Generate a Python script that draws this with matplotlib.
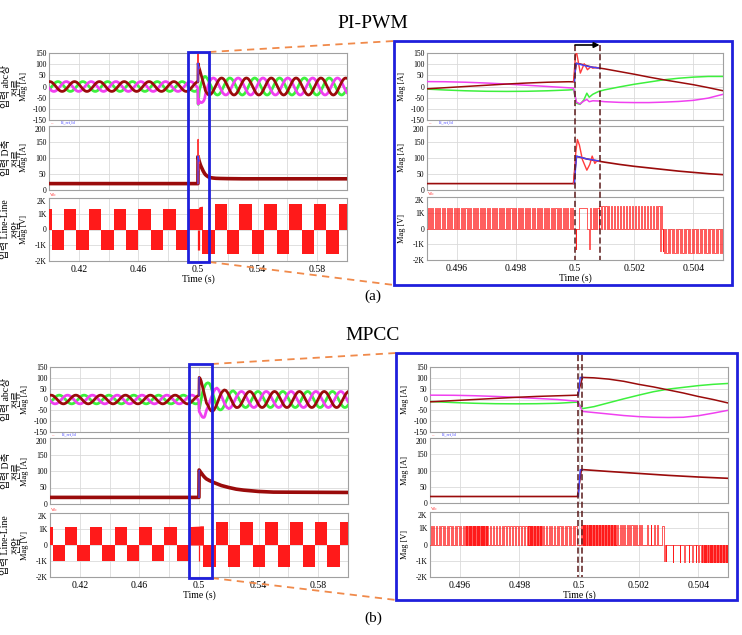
import numpy as np
import matplotlib
matplotlib.use("Agg")
import matplotlib.pyplot as plt
from matplotlib.patches import Rectangle, FancyArrowPatch
from matplotlib.lines import Line2D

# ======================= DATA =======================
# one 60 Hz cycle of a phase current, sampled every 15 deg, per unit of its peak
half_cycle_pu = [0.0, 0.26, 0.50, 0.71, 0.87, 0.97, 1.0, 0.97, 0.87, 0.71, 0.50, 0.26]
cycle_pu = half_cycle_pu + [-v for v in half_cycle_pu]
cycle_step = 1.0 / 1440.0          # 15 deg at 60 Hz

# ---------- (a) PI-PWM ----------
a_pre_t0, a_pre_t1, a_pre_amp = 0.39977, 0.49980, 22
a_pre_idx = {"a": 5, "b": 13, "c": 21}        # start sample of dark-red / magenta / green
a_post_t0, a_post_t1, a_post_amp = 0.5075, 0.6005, 38
a_post_idx = {"a": 18, "b": 2, "c": 10}

a_tr_t = [0.49995, 0.50005, 0.50017, 0.5003, 0.5004, 0.50048, 0.5006, 0.5008, 0.5010, 0.5015,
          0.5020, 0.5025, 0.5030, 0.5035, 0.5040, 0.5045, 0.5050, 0.5060, 0.5070]
a_tr_ia = [21, 104, 101, 97, 93, 90, 86, 83, 79, 67, 55, 42, 30, 19, 8, -5, -19, -30, -37]
a_tr_ib = [-7, -70, -78, -65, -58, -68, -64, -65, -68, -71, -72, -72, -70, -67, -62, -52, -35, -12, 8]
a_tr_ic = [-14, -75, -80, -60, -30, -48, -35, -22, -15, -2, 10, 20, 30, 37, 42, 45, 45, 38, 27]

a_ia_over_t = [0.49995, 0.50002, 0.50006, 0.50018, 0.50031, 0.50042, 0.50053, 0.50060, 0.50070, 0.50080]
a_ia_over_v = [21, 145, 148, 60, 102, 75, 88, 82, 86, 83]
a_ia_ref_t = [0.49998, 0.50003, 0.5002, 0.5004, 0.5006, 0.5008]
a_ia_ref_v = [21, 104, 98, 91, 86, 83]

a_id_t = [0.4000, 0.49995, 0.50005, 0.5004, 0.5008, 0.5010, 0.5015, 0.5020, 0.5025, 0.5030, 0.5035,
          0.5040, 0.5045, 0.5050, 0.5060, 0.5070, 0.5080, 0.5100, 0.5120, 0.5150, 0.5200, 0.5300, 0.6000]
a_id_v = [20, 20, 105, 97, 90, 87, 80, 74, 69, 64, 59, 55, 51, 48, 44, 41, 39, 37.5, 36.5, 36, 35.5, 35, 35]
a_id_over_t = [0.49995, 0.50003, 0.50008, 0.50015, 0.50025, 0.5004, 0.5005, 0.50058, 0.50067, 0.50075, 0.5008]
a_id_over_v = [20, 120, 158, 140, 95, 62, 80, 106, 83, 92, 90]
a_id_ref_t = [0.49998, 0.50005, 0.5002, 0.5004, 0.5006, 0.5008]
a_id_ref_v = [20, 106, 102, 97, 94, 91]

# line-line voltage envelope blocks (left view)
vll_edges = [0.4000, 0.4017, 0.4100, 0.4183, 0.4267, 0.4350, 0.4433, 0.4517, 0.4600, 0.4683, 0.4767,
             0.4850, 0.4933, 0.5030, 0.5112, 0.5195, 0.5278, 0.5362, 0.5445, 0.5528, 0.5612, 0.5695,
             0.5778, 0.5862, 0.5945, 0.6000]
a_vll_levels = [1300, -1280, 1300, -1280, 1300, -1280, 1300, -1280, 1300, -1280, 1300, -1280, 1300,
                -1580, 1650, -1580, 1650, -1580, 1650, -1580, 1650, -1580, 1650, -1580, 1650]
a_vll_rise_t = [0.4933, 0.49995, 0.5008, 0.5030]
a_vll_rise_v = [1300, 1300, 1450, 1480]
a_vll_spikes_t = [0.50003, 0.50048]
a_vll_spikes_v = [-1300, -1300]

# switching pulses (zoomed view): (start, end, spacing, level)
a_pwm_trains = [(0.49502, 0.49995, 0.00008, 1300),
                (0.50052, 0.50080, 0.00008, 1300),
                (0.50082, 0.50285, 0.00010, 1450),
                (0.50300, 0.50500, 0.00009, -1550)]
a_pwm_single = [(0.50003, -1300, 0.00002), (0.50013, 1300, 0.00027), (0.50047, -1300, 0.00002),
                (0.50287, -1450, 0.00002), (0.50292, 1450, 0.00002), (0.50296, -1450, 0.00002)]
a_marks = [0.5, 0.50083]

# ---------- (b) MPCC ----------
b_pre_t0, b_pre_t1, b_pre_amp = 0.39997, 0.49940, 20
b_pre_idx = {"a": 5, "b": 13, "c": 21}
b_post_t0, b_post_t1, b_post_amp = 0.5257, 0.6005, 37
b_post_idx = {"a": 18, "b": 2, "c": 10}

b_tr_t = [0.49995, 0.50012, 0.5005, 0.5010, 0.5015, 0.5020, 0.5025, 0.5030, 0.5035, 0.5040, 0.5045,
          0.5050, 0.5060, 0.5070, 0.5080, 0.5090, 0.5100, 0.5110, 0.5120, 0.5130, 0.5140, 0.5150,
          0.5160, 0.5170, 0.5180, 0.5190, 0.5200, 0.5210, 0.5220, 0.5230, 0.5240, 0.5250]
b_tr_ia = [20, 102, 100, 94, 84, 70, 58, 44, 30, 14, 0, -16, -27, -42, -52, -55, -49, -37, -21, -3,
           15, 30, 39, 44, 42, 34, 22, 8, -7, -21, -31, -37]
b_tr_ib = [-8, -55, -60, -67, -74, -79, -82, -83, -82, -75, -63, -50, -35, -15, 5, 22, 38, 49, 53, 46,
           33, 17, 1, -17, -30, -38, -42, -39, -31, -19, -4, 11]
b_tr_ic = [-12, -42, -33, -15, 3, 20, 36, 48, 56, 64, 70, 74, 77, 74, 59, 36, 9, -14, -32, -43,
           -48, -47, -40, -27, -12, 4, 20, 31, 38, 40, 35, 26]
b_ia_ref_t = [0.49998, 0.50004, 0.50012]
b_ia_ref_v = [20, 102, 102]

b_id_t = [0.4000, 0.49995, 0.50008, 0.5010, 0.5020, 0.5030, 0.5040, 0.5050, 0.5070, 0.5100, 0.5150,
          0.5200, 0.5250, 0.5300, 0.5400, 0.5500, 0.6000]
b_id_v = [20, 20, 103, 97, 91, 85, 80, 76, 71, 65, 56, 50, 45, 42, 38, 36, 35]
b_id_ref_t = [0.49998, 0.50004, 0.50012]
b_id_ref_v = [20, 102, 102]

b_vll_levels = [1150, -1000, 1150, -1000, 1150, -1000, 1150, -1000, 1150, -1000, 1150, -1000, 1150,
                -1380, 1450, -1380, 1450, -1380, 1450, -1380, 1450, -1380, 1450, -1380, 1450]
b_vll_rise_t = [0.4933, 0.49995, 0.5010, 0.5030]
b_vll_rise_v = [1150, 1180, 1200, 1200]
b_vll_spikes_t = [0.50002]
b_vll_spikes_v = [-1000]

b_pwm_trains = [(0.49502, 0.49620, 0.00009, 1150),
                (0.49620, 0.49690, 0.00003, 1150),
                (0.49690, 0.49830, 0.00010, 1150),
                (0.49830, 0.49880, 0.00004, 1150),
                (0.49880, 0.49995, 0.00009, 1150),
                (0.50008, 0.50120, 0.00004, 1200),
                (0.50120, 0.50215, 0.00008, 1200),
                (0.50410, 0.50500, 0.00004, -1050)]
b_pwm_single = [(0.50228, 1200, 0.00002), (0.50240, 1200, 0.00002), (0.50252, 1200, 0.00002),
                (0.50262, 1200, 0.00002), (0.50278, 1150, 0.00006), (0.50286, -1000, 0.00002),
                (0.50291, -1000, 0.00002), (0.50314, -1050, 0.00002), (0.50338, -1050, 0.00002),
                (0.50353, -1050, 0.00002), (0.50368, -1050, 0.00002), (0.50380, -1050, 0.00002),
                (0.50392, -1050, 0.00002), (0.50401, -1050, 0.00002)]
b_marks = [0.49997, 0.50010]

# axis ticks
left_xticks = [0.42, 0.46, 0.5, 0.54, 0.58]
left_xticklabels = ["0.42", "0.46", "0.5", "0.54", "0.58"]
left_xgrid = [0.40, 0.44, 0.48, 0.52, 0.56, 0.60]
right_xticks = [0.496, 0.498, 0.5, 0.502, 0.504]
right_xticklabels = ["0.496", "0.498", "0.5", "0.502", "0.504"]
iabc_ticks = [-150, -100, -50, 0, 50, 100, 150]
iabc_labels = ["-150", "-100", "-50", "0", "50", "100", "150"]
id_ticks = [0, 50, 100, 150, 200]
id_labels = ["0", "50", "100", "150", "200"]
v_ticks = [-2000, -1000, 0, 1000, 2000]
v_labels = ["-2K", "-1K", "0", "1K", "2K"]
row_titles = [("입력 abc상", "전류"), ("입력 D축", "전류"), ("입력 Line-Line", "전압")]

# ======================= STYLE =======================
C_A, C_B, C_C = "#9a0b0b", "#f040f0", "#3df03d"
C_RED, C_BLUE, C_V = "#ff3b3b", "#4343ff", "#ff1a1a"
C_FRAME, C_ORANGE, C_MARK = "#1f1fdc", "#f08a4b", "#5a1a1a"
SERIF = ["Liberation Serif", "DejaVu Serif"]
KFONT = ["Liberation Serif", "Noto Sans CJK KR", "DejaVu Sans"]

W, H = 742, 635
fig = plt.figure(figsize=(W / 100, H / 100), dpi=100)


def fy(py):
    return 1 - py / H


def add_ax(x0, y0, x1, y1):
    return fig.add_axes([x0 / W, 1 - y1 / H, (x1 - x0) / W, (y1 - y0) / H])


def steady(t0, t1, idx0, amp):
    n = int((t1 - t0) / cycle_step) + 1
    t = t0 + cycle_step * np.arange(n)
    v = np.array([amp * cycle_pu[(idx0 + k) % len(cycle_pu)] for k in range(n)])
    return t, v


def phase_series(pre, post, tr_t, tr_v, key):
    t1, v1 = steady(pre[0], pre[1], pre[3][key], pre[2])
    t2, v2 = steady(post[0], post[1], post[3][key], post[2])
    return np.concatenate([t1, tr_t, t2]), np.concatenate([v1, tr_v, v2])


def pulse_path(trains, singles, t_start, t_end):
    pulses = []
    for (s, e, p, lvl) in trains:
        for tp in np.arange(s, e, p):
            pulses.append((tp, lvl, p * 0.45))
    pulses += list(singles)
    pulses.sort(key=lambda q: q[0])
    ts, vs = [t_start], [0]
    for tp, lvl, w in pulses:
        ts += [tp, tp, tp + w, tp + w]
        vs += [0, lvl, lvl, 0]
    ts.append(t_end)
    vs.append(0)
    return ts, vs


def style(ax, ylim, yt, yl, xlim, xt, xl, xminor, show_x, drop_top=False):
    ax.set_xlim(*xlim)
    ax.set_ylim(*ylim)
    ax.set_yticks(yt)
    labs = ax.set_yticklabels(yl, fontsize=5.5, family=SERIF)
    if drop_top:
        labs[-1].set_va("top")
    ax.set_xticks(xt)
    ax.set_xticks(xminor, minor=True)
    if show_x:
        ax.set_xticklabels(xl, fontsize=7, family=SERIF)
        ax.set_xlabel("Time (s)", fontsize=7, family=SERIF, labelpad=0.5)
    else:
        ax.set_xticklabels([])
    ax.tick_params(which="both", length=0, pad=2)
    ax.tick_params(axis="x", pad=3)
    ax.grid(True, which="both", color="#dadada", lw=0.6)
    ax.set_axisbelow(True)
    for s in ax.spines.values():
        s.set_color("#a0a0a0")
        s.set_linewidth(0.8)


def fig_x(ax, t):
    d = ax.transData.transform((t, 0))
    return fig.transFigure.inverted().transform(d)[0]


def draw_case(cfg):
    rows_left = cfg["left_rows"]
    rows_right = cfg["right_rows"]
    xl, xr = cfg["left_x"], cfg["right_x"]
    series = {}
    for key in ("a", "b", "c"):
        series[key] = phase_series(cfg["pre"], cfg["post"], cfg["tr_t"], cfg["tr"][key], key)

    axes = {}
    for side, (x0, x1), rows in (("L", xl, rows_left), ("R", xr, rows_right)):
        big = side == "L"
        lw_main = 2.0 if big else 1.1
        lw_thin = 0.9 if big else 1.0
        xlim = (0.4, 0.6) if big else (0.495, 0.505)
        xt, xlab, xmin = ((left_xticks, left_xticklabels, left_xgrid) if big
                          else (right_xticks, right_xticklabels, []))
        # abc currents
        ax1 = add_ax(x0, rows[0][0], x1, rows[0][1])
        ax1.plot(*series["c"], color=C_C, lw=lw_main, zorder=3)
        ax1.plot(*series["b"], color=C_B, lw=lw_main, zorder=3)
        ax1.plot(*series["a"], color=C_A, lw=lw_main, zorder=4)
        if cfg["ia_over"] is not None:
            ax1.plot(*cfg["ia_over"], color=C_RED, lw=lw_thin, zorder=5)
        ax1.plot(*cfg["ia_ref"], color=C_BLUE, lw=lw_thin, zorder=5)
        style(ax1, (-150, 150), iabc_ticks, iabc_labels, xlim, xt, xlab, xmin, False)
        ax1.set_ylabel("Mag [A]", fontsize=6, family=SERIF)
        # d-axis current
        ax2 = add_ax(x0, rows[1][0], x1, rows[1][1])
        ax2.plot(cfg["id_t"], cfg["id_v"], color=C_A, lw=(2.6 if big else 1.2), zorder=4)
        if cfg["id_over"] is not None:
            ax2.plot(*cfg["id_over"], color=C_RED, lw=lw_thin, zorder=5)
        ax2.plot(*cfg["id_ref"], color=C_BLUE, lw=lw_thin, zorder=5)
        style(ax2, (0, 200), id_ticks, id_labels, xlim, xt, xlab, xmin, False,
              drop_top=True)
        ax2.set_ylabel("Mag [A]", fontsize=6, family=SERIF)
        # line-line voltage
        ax3 = add_ax(x0, rows[2][0], x1, rows[2][1])
        if big:
            ed = np.array(vll_edges)
            ax3.bar(ed[:-1], cfg["vll_levels"], width=np.diff(ed), align="edge",
                    color=C_V, linewidth=0, zorder=3)
            ax3.fill_between(cfg["rise_t"], 0, cfg["rise_v"], color=C_V, lw=0, zorder=3)
            ax3.vlines(cfg["spikes_t"], 0, cfg["spikes_v"], color=C_V, lw=0.9, zorder=3)
        else:
            pt, pv = pulse_path(cfg["pwm_trains"], cfg["pwm_single"], 0.495, 0.505)
            ax3.plot(pt, pv, color=C_V, lw=0.5, zorder=3)
        style(ax3, (-2000, 2000), v_ticks, v_labels, xlim, xt, xlab, xmin, True,
              drop_top=True)
        ax3.set_ylabel("Mag [V]", fontsize=6, family=SERIF)
        for ax in (ax1, ax2, ax3):
            ax.yaxis.set_label_coords(-21.0 / (x1 - x0), 0.5)
        axes[side] = (ax1, ax2, ax3)
        # tiny trace tags
        fig.text((x0 + 1) / W, fy(rows[1][0] - 3), "–", color=C_RED, fontsize=3.5,
                 family=SERIF, va="center")
        fig.text((x0 + 12) / W, fy(rows[1][0] - 3), "Id_ref,Id", color=C_BLUE, fontsize=3,
                 family=SERIF, va="center")
        fig.text((x0 + 1) / W, fy(rows[2][0] - 3), "Vab", color=C_RED, fontsize=3,
                 family=SERIF, va="center")

    # Korean row titles (left block)
    for (r0, r1), (t1, t2) in zip(rows_left, row_titles):
        yc = fy((r0 + r1) / 2)
        fig.text(6 / W, yc, t1, rotation=90, fontsize=7, family=KFONT, ha="center", va="center")
        fig.text(17 / W, yc, t2, rotation=90, fontsize=7, family=KFONT, ha="center", va="center")

    # blue zoom box on the left view
    axL = axes["L"][2]
    bx0, bx1 = fig_x(axL, cfg["box_t"][0]), fig_x(axL, cfg["box_t"][1])
    by0, by1 = fy(cfg["box_y"][1]), fy(cfg["box_y"][0])
    fig.add_artist(Rectangle((bx0, by0), bx1 - bx0, by1 - by0, transform=fig.transFigure,
                             fill=False, ec=C_FRAME, lw=2, zorder=10))
    # frame round the zoomed view
    fx0, fy0, fx1, fy1 = cfg["frame"]
    fig.add_artist(Rectangle((fx0 / W, fy(fy1)), (fx1 - fx0) / W, (fy1 - fy0) / H,
                             transform=fig.transFigure, fill=False, ec=C_FRAME, lw=2, zorder=10))
    # orange connectors
    for (ya, yb) in ((cfg["box_y"][0], fy0), (cfg["box_y"][1], fy1)):
        fig.add_artist(Line2D([bx1, fx0 / W], [fy(ya), fy(yb)], transform=fig.transFigure,
                              color=C_ORANGE, lw=1.3, ls=(0, (4, 3)), zorder=9))
    # dashed event markers on the zoomed view
    axR = axes["R"][2]
    for t in cfg["marks"]:
        xm = fig_x(axR, t)
        fig.add_artist(Line2D([xm, xm], [fy(cfg["mark_y"][0]), fy(cfg["mark_y"][1])],
                              transform=fig.transFigure, color=C_MARK, lw=1.1,
                              ls=(0, (4, 2)), zorder=9))
    if cfg["arrow"]:
        xa, xb = fig_x(axR, cfg["marks"][0]), fig_x(axR, cfg["marks"][1])
        ya = fy(cfg["mark_y"][0])
        fig.add_artist(FancyArrowPatch((xa, ya), (xb, ya), transform=fig.transFigure,
                                       arrowstyle="-|>", mutation_scale=8, color="black",
                                       lw=1.2, shrinkA=0, shrinkB=0, zorder=11))


case_a = dict(
    pre=(a_pre_t0, a_pre_t1, a_pre_amp, a_pre_idx),
    post=(a_post_t0, a_post_t1, a_post_amp, a_post_idx),
    tr_t=a_tr_t, tr={"a": a_tr_ia, "b": a_tr_ib, "c": a_tr_ic},
    ia_over=(a_ia_over_t, a_ia_over_v), ia_ref=(a_ia_ref_t, a_ia_ref_v),
    id_t=a_id_t, id_v=a_id_v, id_over=(a_id_over_t, a_id_over_v), id_ref=(a_id_ref_t, a_id_ref_v),
    vll_levels=a_vll_levels, rise_t=a_vll_rise_t, rise_v=a_vll_rise_v,
    spikes_t=a_vll_spikes_t, spikes_v=a_vll_spikes_v,
    pwm_trains=a_pwm_trains, pwm_single=a_pwm_single,
    left_rows=[(53, 120), (126, 190), (198, 261)], right_rows=[(53, 120), (126, 190), (197, 260)],
    left_x=(49, 347), right_x=(427, 723),
    box_t=(0.4932, 0.5075), box_y=(52, 262), frame=(394, 41, 732, 285),
    marks=a_marks, mark_y=(45, 260), arrow=True)

case_b = dict(
    pre=(b_pre_t0, b_pre_t1, b_pre_amp, b_pre_idx),
    post=(b_post_t0, b_post_t1, b_post_amp, b_post_idx),
    tr_t=b_tr_t, tr={"a": b_tr_ia, "b": b_tr_ib, "c": b_tr_ic},
    ia_over=None, ia_ref=(b_ia_ref_t, b_ia_ref_v),
    id_t=b_id_t, id_v=b_id_v, id_over=None, id_ref=(b_id_ref_t, b_id_ref_v),
    vll_levels=b_vll_levels, rise_t=b_vll_rise_t, rise_v=b_vll_rise_v,
    spikes_t=b_vll_spikes_t, spikes_v=b_vll_spikes_v,
    pwm_trains=b_pwm_trains, pwm_single=b_pwm_single,
    left_rows=[(367, 432), (438, 504), (513, 577)], right_rows=[(367, 432), (438, 503), (512, 577)],
    left_x=(50, 348), right_x=(430, 728),
    box_t=(0.4932, 0.5085), box_y=(364, 578), frame=(396, 353, 737, 600),
    marks=b_marks, mark_y=(355, 577), arrow=False)

draw_case(case_a)
draw_case(case_b)

fig.text(373 / W, fy(23), "PI-PWM", fontsize=14, family=SERIF, ha="center", va="center")
fig.text(373 / W, fy(296), "(a)", fontsize=11, family=SERIF, ha="center", va="center")
fig.text(373 / W, fy(336), "MPCC", fontsize=14, family=SERIF, ha="center", va="center")
fig.text(373 / W, fy(618), "(b)", fontsize=11, family=SERIF, ha="center", va="center")

fig.savefig("out.png", dpi=100)
